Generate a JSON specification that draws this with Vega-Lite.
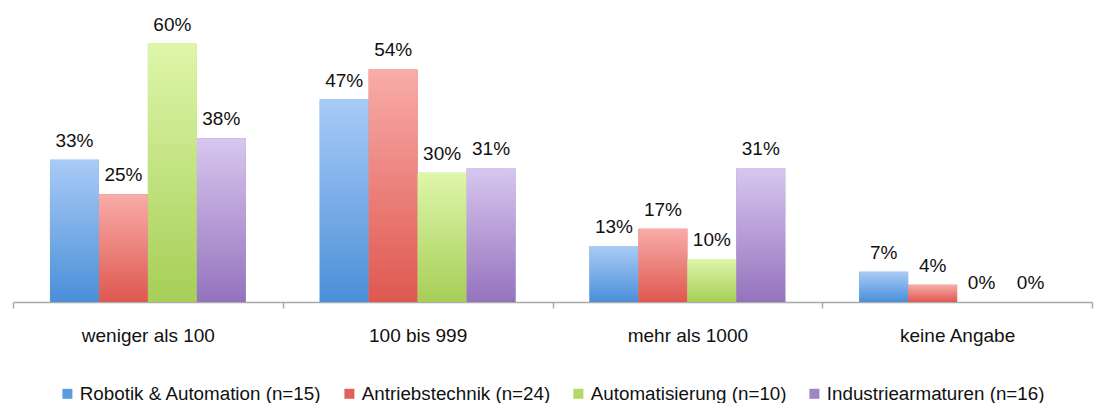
{
  "$schema": "https://vega.github.io/schema/vega-lite/v6.json",
  "autosize": "none",
  "width": 1079,
  "height": 280,
  "padding": {"left": 13, "top": 22, "right": 8, "bottom": 101},
  "background": "white",
  "config": {
    "view": {"stroke": null},
    "font": "Liberation Sans"
  },
  "data": {
    "values": [
      {"cat": "weniger als 100", "series": "Robotik & Automation (n=15)", "value": 0.33},
      {"cat": "weniger als 100", "series": "Antriebstechnik (n=24)", "value": 0.25},
      {"cat": "weniger als 100", "series": "Automatisierung (n=10)", "value": 0.60},
      {"cat": "weniger als 100", "series": "Industriearmaturen (n=16)", "value": 0.38},
      {"cat": "100 bis 999", "series": "Robotik & Automation (n=15)", "value": 0.47},
      {"cat": "100 bis 999", "series": "Antriebstechnik (n=24)", "value": 0.54},
      {"cat": "100 bis 999", "series": "Automatisierung (n=10)", "value": 0.30},
      {"cat": "100 bis 999", "series": "Industriearmaturen (n=16)", "value": 0.31},
      {"cat": "mehr als 1000", "series": "Robotik & Automation (n=15)", "value": 0.13},
      {"cat": "mehr als 1000", "series": "Antriebstechnik (n=24)", "value": 0.17},
      {"cat": "mehr als 1000", "series": "Automatisierung (n=10)", "value": 0.10},
      {"cat": "mehr als 1000", "series": "Industriearmaturen (n=16)", "value": 0.31},
      {"cat": "keine Angabe", "series": "Robotik & Automation (n=15)", "value": 0.07},
      {"cat": "keine Angabe", "series": "Antriebstechnik (n=24)", "value": 0.04},
      {"cat": "keine Angabe", "series": "Automatisierung (n=10)", "value": 0.0},
      {"cat": "keine Angabe", "series": "Industriearmaturen (n=16)", "value": 0.0}
    ]
  },
  "encoding": {
    "x": {
      "field": "cat", "type": "nominal", "sort": null,
      "scale": {"paddingInner": 0, "paddingOuter": 0},
      "axis": {
        "title": null, "labelAngle": 0, "labelFontSize": 19, "labelColor": "#111",
        "labelPadding": 18, "tickBand": "extent", "tickSize": 6, "tickWidth": 1.5,
        "tickColor": "#aaaaaa", "domainColor": "#aaaaaa", "domainWidth": 1.5, "grid": false
      }
    },
    "xOffset": {
      "field": "series", "type": "nominal",
      "scale": {
        "domain": ["Robotik & Automation (n=15)", "Antriebstechnik (n=24)", "Automatisierung (n=10)", "Industriearmaturen (n=16)"],
        "paddingInner": 0, "paddingOuter": 0.755
      }
    },
    "y": {
      "field": "value", "type": "quantitative",
      "scale": {"domain": [0, 0.65], "nice": false, "zero": true},
      "axis": null
    }
  },
  "layer": [
    {
      "mark": {"type": "bar"},
      "encoding": {
        "color": {
          "field": "series", "type": "nominal",
          "scale": {
            "domain": ["Robotik & Automation (n=15)", "Antriebstechnik (n=24)", "Automatisierung (n=10)", "Industriearmaturen (n=16)"],
            "range": ["#5b9be0", "#e2625a", "#b3d86a", "#a184c8"]
          },
          "legend": {
            "title": null, "orient": "none", "direction": "horizontal",
            "legendX": 45, "legendY": 362, "symbolType": "square", "symbolSize": 100,
            "labelFontSize": 18.8, "labelColor": "#111", "labelOffset": 3, "columnPadding": 18,
            "labelLimit": 500, "symbolStrokeWidth": 0
          }
        }
      }
    },
    {
      "transform": [{"filter": "datum.series === 'Robotik & Automation (n=15)'"}],
      "mark": {"type": "bar", "color": {"gradient": "linear", "x1": 0, "y1": 0, "x2": 0, "y2": 1,
        "stops": [{"offset": 0, "color": "#a9cbf6"}, {"offset": 1, "color": "#4a8fd8"}]}},
      "encoding": {}
    },
    {
      "transform": [{"filter": "datum.series === 'Antriebstechnik (n=24)'"}],
      "mark": {"type": "bar", "color": {"gradient": "linear", "x1": 0, "y1": 0, "x2": 0, "y2": 1,
        "stops": [{"offset": 0, "color": "#f9aca8"}, {"offset": 1, "color": "#de5850"}]}},
      "encoding": {}
    },
    {
      "transform": [{"filter": "datum.series === 'Automatisierung (n=10)'"}],
      "mark": {"type": "bar", "color": {"gradient": "linear", "x1": 0, "y1": 0, "x2": 0, "y2": 1,
        "stops": [{"offset": 0, "color": "#def6aa"}, {"offset": 1, "color": "#a7ce57"}]}},
      "encoding": {}
    },
    {
      "transform": [{"filter": "datum.series === 'Industriearmaturen (n=16)'"}],
      "mark": {"type": "bar", "color": {"gradient": "linear", "x1": 0, "y1": 0, "x2": 0, "y2": 1,
        "stops": [{"offset": 0, "color": "#d8c6ef"}, {"offset": 1, "color": "#9473bd"}]}},
      "encoding": {}
    },
    {
      "mark": {"type": "text", "baseline": "alphabetic", "dy": -13, "fontSize": 19, "color": "#111"},
      "encoding": {
        "text": {"field": "value", "type": "quantitative", "format": ".0%"}
      }
    }
  ]
}
